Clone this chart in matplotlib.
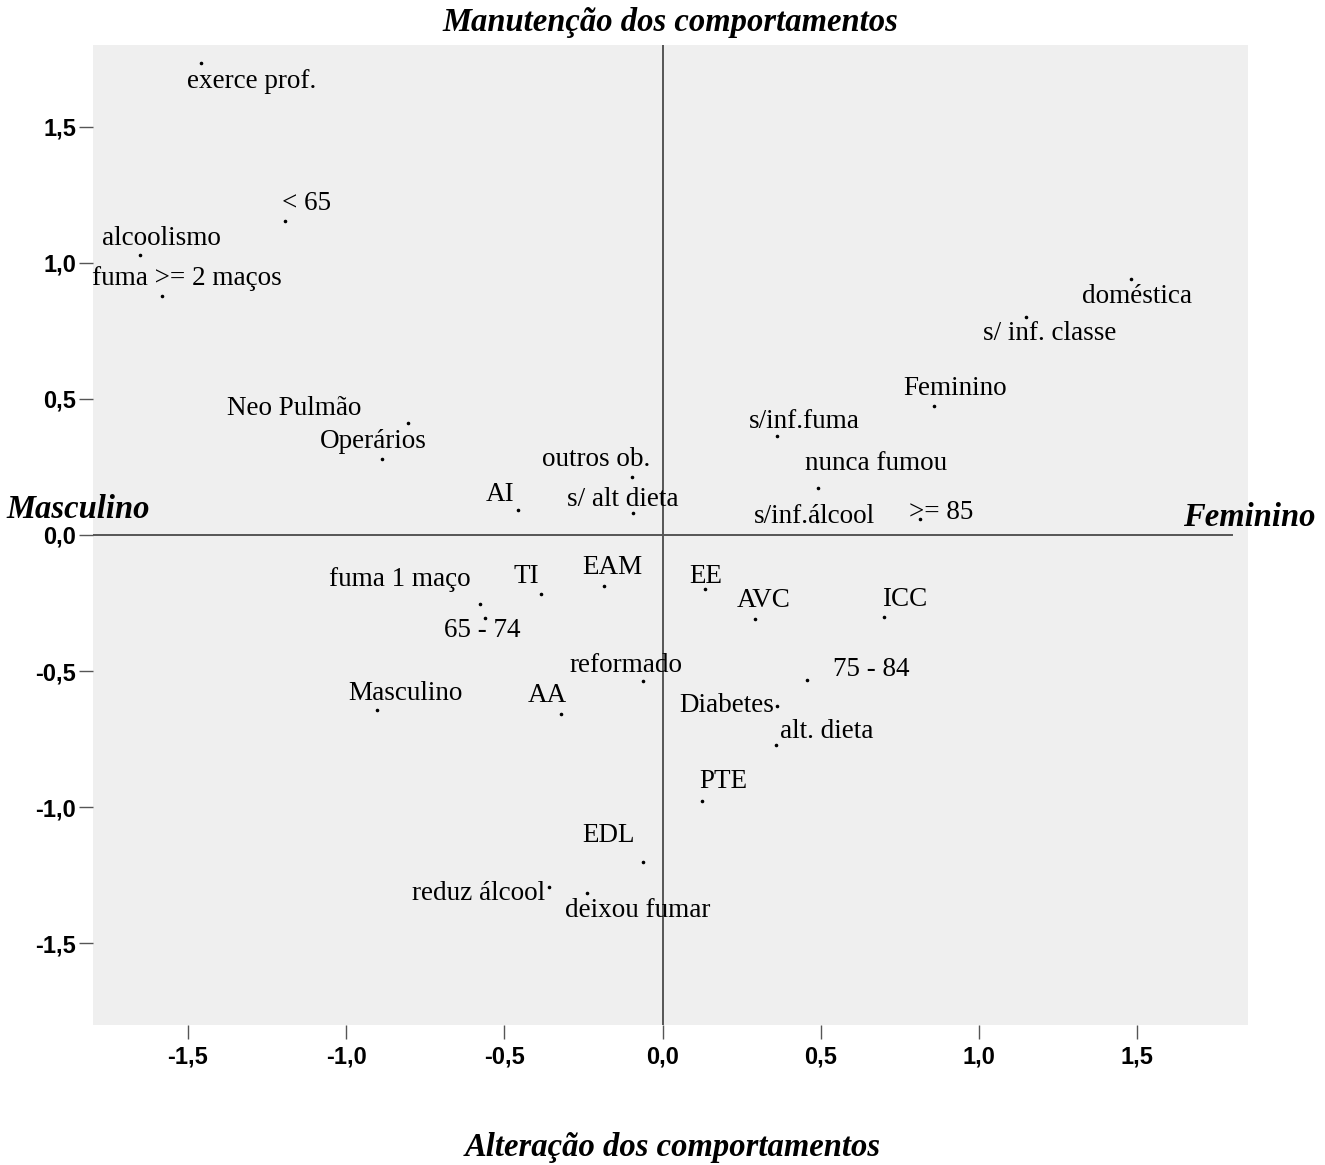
import matplotlib
matplotlib.use('Agg')
import matplotlib.pyplot as plt

# coordenadas das categorias nas duas dimensões
categorias = ['exerce prof.', '< 65', 'alcoolismo', 'fuma >= 2 maços', 'doméstica',
              's/ inf. classe', 'Feminino', 's/inf.fuma', 'nunca fumou', 's/inf.álcool',
              '>= 85', 'Neo Pulmão', 'Operários', 'outros ob.', 'AI', 's/ alt dieta',
              'fuma 1 maço', 'TI', 'EAM', 'EE', 'AVC', 'ICC', '65 - 74', 'reformado',
              '75 - 84', 'Masculino', 'AA', 'Diabetes', 'alt. dieta', 'PTE', 'EDL',
              'reduz álcool', 'deixou fumar']
dim1 = [-1.458, -1.192, -1.650, -1.582, 1.479,
        1.147, 0.859, 0.360, 0.491, 0.488,
        0.813, -0.805, -0.888, -0.098, -0.456, -0.094,
        -0.578, -0.383, -0.184, 0.135, 0.292, 0.699, -0.562, -0.061,
        0.457, -0.902, -0.322, 0.361, 0.359, 0.123, -0.061,
        -0.359, -0.238]
dim2 = [1.733, 1.152, 1.027, 0.878, 0.939,
        0.801, 0.472, 0.365, 0.174, 0.051,
        0.058, 0.413, 0.278, 0.213, 0.093, 0.082,
        -0.252, -0.216, -0.187, -0.200, -0.308, -0.300, -0.306, -0.535,
        -0.534, -0.643, -0.657, -0.630, -0.773, -0.977, -1.201,
        -1.293, -1.314]

# deslocamento (pixels) de cada rótulo em relação ao ponto
desloc = [(50, -18), (21, 18), (21, 17), (25, 17), (6, -17),
          (24, -17), (21, 18), (28, 14), (58, 24), (-3, 5),
          (21, 7), (-114, 14), (-8, 18), (-35, 17), (-18, 15), (-10, 13),
          (-80, 24), (-15, 17), (8, 18), (0, 13), (9, 18), (21, 17), (-3, -12), (-17, 15),
          (64, 11), (28, 17), (-13, 18), (-50, 1), (50, 14), (22, 19), (-35, 26),
          (-70, -7), (50, -18)]

ticks = [-1.5, -1.0, -0.5, 0.0, 0.5, 1.0, 1.5]
tick_labels = ['-1,5', '-1,0', '-0,5', '0,0', '0,5', '1,0', '1,5']

serif = 'Liberation Serif'
sans = 'Liberation Sans'

fig = plt.figure(figsize=(13.25, 11.65), dpi=100)
ax = fig.add_axes([0.0702, 0.1202, 0.8717, 0.8412])
ax.set_facecolor('#efefef')
for s in ax.spines.values():
    s.set_visible(False)

ax.set_xlim(-1.80, 1.85)
ax.set_ylim(-1.80, 1.80)

ax.plot([-1.80, 1.80], [0, 0], color='#555555', lw=1.4, zorder=1)
ax.plot([0, 0], [-1.80, 1.80], color='#555555', lw=1.4, zorder=1)

ax.scatter(dim1, dim2, s=2.5, color='black', zorder=3)
for nome, x, y, (dx, dy) in zip(categorias, dim1, dim2, desloc):
    ax.annotate(nome, (x, y), xytext=(dx, dy), textcoords='offset pixels',
                ha='center', va='center', fontsize=19.5, family=serif, zorder=4)

ax.set_xticks(ticks)
ax.set_xticklabels(tick_labels)
ax.set_yticks(ticks)
ax.set_yticklabels(tick_labels)
ax.tick_params(axis='both', length=10, width=1, color='#555555', labelsize=17, pad=2)
for lab in ax.get_xticklabels() + ax.get_yticklabels():
    lab.set_family(sans)
    lab.set_fontweight('bold')
ax.tick_params(axis='x', pad=5)

titulo = dict(family=serif, fontweight='bold', fontstyle='italic', fontsize=23.5)
fig.text(0.506, 0.981, 'Manutenção dos comportamentos', ha='center', va='center', **titulo)
fig.text(0.508, 0.0146, 'Alteração dos comportamentos', ha='center', va='center', **titulo)
fig.text(0.005, 0.5625, 'Masculino', ha='left', va='center', **titulo)
fig.text(0.9925, 0.5555, 'Feminino', ha='right', va='center', **titulo)

fig.savefig('out.png', dpi=100, facecolor='white')
